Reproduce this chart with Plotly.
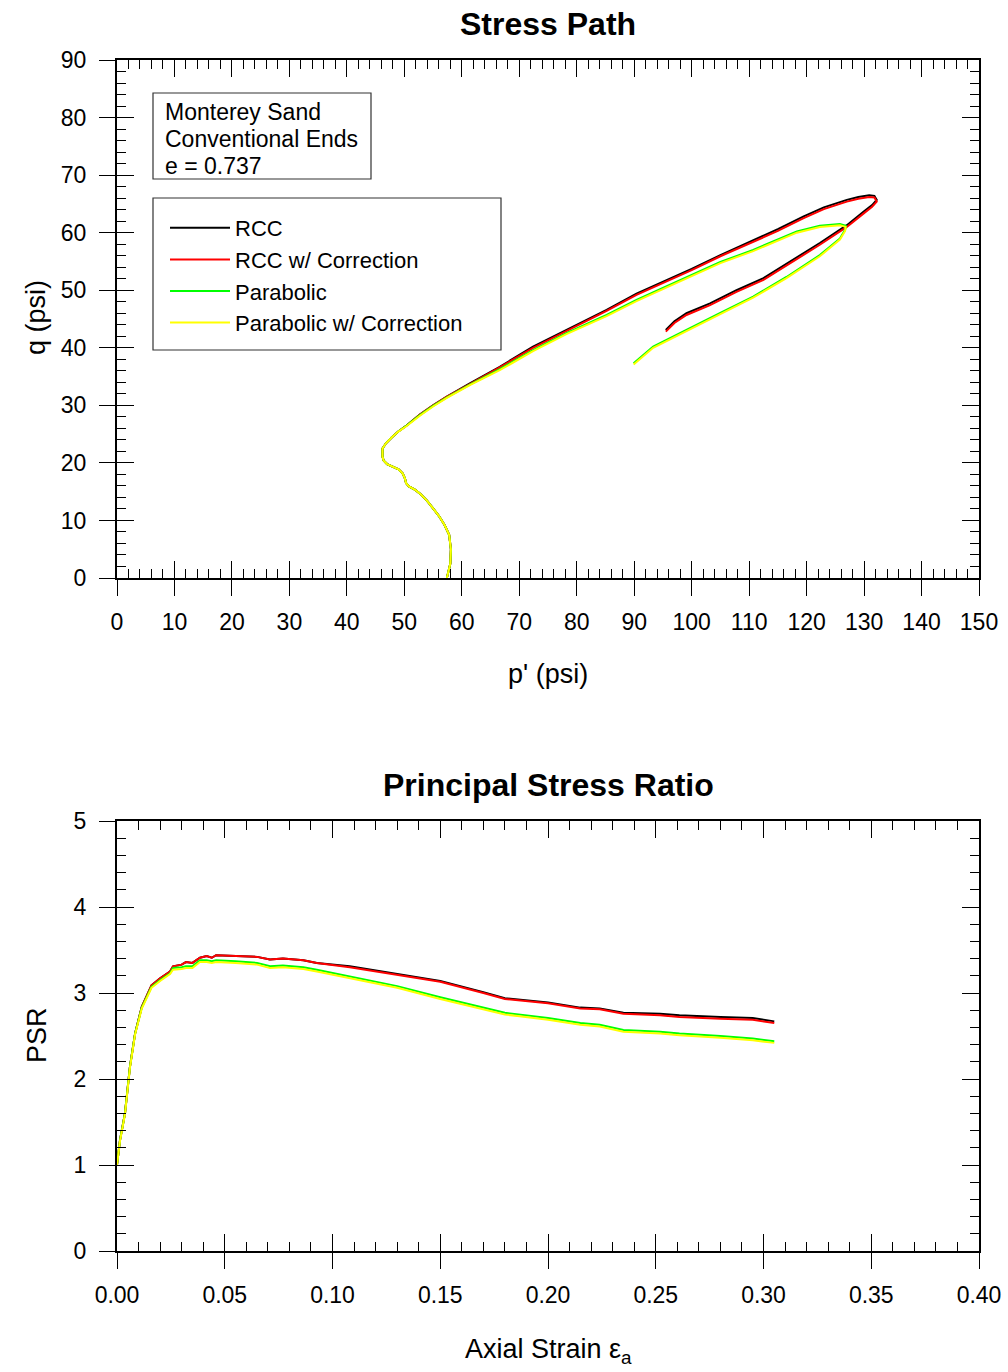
import plotly.graph_objects as go

W, H = 1008, 1372
FONT = "Liberation Sans, Arial, sans-serif"

# ---------------- Stress path data (p', q in psi) ----------------
rcc_p = [57.4, 58.0, 58.1, 57.8, 57.0, 56.0, 55.0, 53.9, 52.8, 51.9, 50.8, 50.3, 50.1, 49.7,
         49.0, 48.1, 47.0, 46.4, 46.2, 46.2, 46.8, 47.8, 48.9, 50.4, 52.7, 55.0, 57.4, 61.4,
         66.6, 72.4, 78.3, 85.2, 90.4, 95.0, 100.0, 105.0, 110.7, 115.0, 119.4, 123.0, 127.0, 129.0,
         130.9, 131.8, 132.2, 131.4, 130.0, 127.0, 122.3, 117.7, 112.5, 107.8, 103.2, 99.1, 97.0, 95.5]
rcc_q = [0.0, 2.5, 5.0, 7.5, 9.2, 10.8, 12.1, 13.5, 14.6, 15.3, 15.9, 16.5, 17.3, 18.2,
         18.9, 19.3, 19.8, 20.4, 21.1, 22.5, 23.4, 24.4, 25.4, 26.5, 28.4, 30.0, 31.5, 33.8,
         36.7, 40.2, 43.1, 46.6, 49.4, 51.4, 53.7, 56.1, 58.7, 60.6, 62.8, 64.4, 65.7, 66.2,
         66.5, 66.4, 65.7, 64.8, 63.7, 61.3, 58.2, 55.3, 52.1, 50.0, 47.7, 46.0, 44.6, 43.1]
rcc_corr_q = [0.0, 2.5, 5.0, 7.5, 9.2, 10.8, 12.1, 13.5, 14.6, 15.3, 15.9, 16.5, 17.3, 18.2,
              18.9, 19.3, 19.8, 20.4, 21.1, 22.5, 23.4, 24.4, 25.4, 26.5, 28.4, 30.0, 31.5, 33.7,
              36.6, 40.0, 42.9, 46.4, 49.2, 51.2, 53.5, 55.9, 58.4, 60.3, 62.5, 64.1, 65.4, 65.9,
              66.2, 66.1, 65.4, 64.5, 63.4, 61.0, 57.9, 55.0, 51.8, 49.7, 47.4, 45.7, 44.3, 42.8]

par_p = [57.4, 58.0, 58.1, 57.8, 57.0, 56.0, 55.0, 53.9, 52.8, 51.9, 50.8, 50.3, 50.1, 49.7,
         49.0, 48.1, 47.0, 46.4, 46.2, 46.2, 46.8, 47.8, 48.9, 50.4, 52.7, 55.0, 57.4, 61.4,
         66.6, 72.4, 78.3, 85.2, 90.4, 95.0, 100.0, 105.0, 110.7, 115.0, 118.3, 122.3, 125.8, 126.8,
         126.7, 125.8, 122.3, 116.5, 110.7, 104.9, 99.1, 93.3, 89.9]
par_q = [0.0, 2.5, 5.0, 7.5, 9.2, 10.8, 12.1, 13.5, 14.6, 15.3, 15.9, 16.5, 17.3, 18.2,
         18.9, 19.3, 19.8, 20.4, 21.1, 22.5, 23.4, 24.4, 25.4, 26.5, 28.3, 29.9, 31.4, 33.6,
         36.3, 39.6, 42.6, 45.7, 48.3, 50.4, 52.6, 54.9, 57.0, 58.8, 60.2, 61.2, 61.5, 61.2,
         60.5, 59.0, 56.1, 52.3, 48.9, 46.0, 43.1, 40.2, 37.3]
par_corr_q = [0.0, 2.5, 5.0, 7.5, 9.2, 10.8, 12.1, 13.5, 14.6, 15.3, 15.9, 16.5, 17.3, 18.2,
              18.9, 19.3, 19.8, 20.4, 21.1, 22.5, 23.4, 24.4, 25.4, 26.4, 28.2, 29.8, 31.3, 33.5,
              36.1, 39.4, 42.4, 45.5, 48.1, 50.2, 52.4, 54.7, 56.8, 58.6, 60.0, 61.0, 61.3, 61.0,
              60.3, 58.8, 55.9, 52.1, 48.7, 45.8, 42.9, 40.0, 37.1]

# ---------------- Principal stress ratio vs axial strain ----------------
strain = [0.0, 0.0014, 0.0037, 0.006, 0.0084, 0.0115, 0.016, 0.020, 0.0246, 0.026, 0.030, 0.032,
          0.035, 0.0385, 0.0416, 0.044, 0.046, 0.055, 0.065, 0.071, 0.077, 0.0865, 0.0927, 0.108,
          0.13, 0.15, 0.17, 0.18, 0.20, 0.215, 0.224, 0.235, 0.252, 0.261, 0.28, 0.295, 0.305]
psr_rcc = [1.00, 1.29, 1.60, 2.14, 2.53, 2.84, 3.09, 3.17, 3.25, 3.31, 3.33, 3.36,
           3.35, 3.41, 3.43, 3.41, 3.44, 3.43, 3.42, 3.39, 3.40, 3.38, 3.35, 3.31,
           3.22, 3.14, 3.01, 2.94, 2.89, 2.83, 2.82, 2.77, 2.76, 2.74, 2.72, 2.71, 2.67]
psr_rcc_corr = [1.00, 1.29, 1.60, 2.14, 2.53, 2.84, 3.09, 3.17, 3.25, 3.31, 3.33, 3.36,
                3.35, 3.41, 3.43, 3.41, 3.44, 3.43, 3.42, 3.39, 3.40, 3.38, 3.35, 3.30,
                3.21, 3.13, 3.00, 2.93, 2.88, 2.82, 2.81, 2.76, 2.74, 2.72, 2.70, 2.69, 2.65]
psr_par = [1.00, 1.29, 1.60, 2.14, 2.53, 2.83, 3.07, 3.15, 3.23, 3.29, 3.30, 3.31,
           3.31, 3.38, 3.38, 3.37, 3.38, 3.37, 3.35, 3.31, 3.32, 3.30, 3.27, 3.19,
           3.08, 2.95, 2.83, 2.77, 2.71, 2.65, 2.63, 2.57, 2.55, 2.53, 2.50, 2.47, 2.44]
psr_par_corr = [1.00, 1.28, 1.59, 2.13, 2.52, 2.82, 3.06, 3.14, 3.22, 3.27, 3.28, 3.29,
                3.29, 3.36, 3.36, 3.35, 3.36, 3.35, 3.33, 3.29, 3.30, 3.28, 3.25, 3.17,
                3.06, 2.93, 2.81, 2.75, 2.69, 2.63, 2.61, 2.55, 2.53, 2.51, 2.48, 2.45, 2.42]

series_names = ["RCC", "RCC w/ Correction", "Parabolic", "Parabolic w/ Correction"]
series_colors = ["#000000", "#FF0000", "#00FF00", "#FFFF00"]

stress_path = [(rcc_p, rcc_q), (rcc_p, rcc_corr_q), (par_p, par_q), (par_p, par_corr_q)]
psr_curves = [psr_rcc, psr_rcc_corr, psr_par, psr_par_corr]


def px(x):
    return x / W


def py(y):
    return 1 - y / H


fig = go.Figure()

for name, color, (p, q) in zip(series_names, series_colors, stress_path):
    fig.add_trace(go.Scatter(x=p, y=q, mode="lines", name=name,
                             line=dict(color=color, width=2),
                             xaxis="x", yaxis="y"))

for name, color, psr in zip(series_names, series_colors, psr_curves):
    fig.add_trace(go.Scatter(x=strain, y=psr, mode="lines", name=name, showlegend=False,
                             line=dict(color=color, width=2),
                             xaxis="x2", yaxis="y2"))

# empty traces so the outer-tick overlay axes get their own subplots
for xa, ya in [("x3", "y"), ("x", "y3"), ("x4", "y2"), ("x2", "y4")]:
    fig.add_trace(go.Scatter(x=[None], y=[None], xaxis=xa, yaxis=ya, showlegend=False,
                             hoverinfo="skip", mode="lines"))

AX = dict(showgrid=False, zeroline=False, color="black", tickcolor="black",
          tickwidth=1.3, linecolor="black", linewidth=1.5, automargin=False)
TICKFONT = dict(family=FONT, size=23, color="black")


def inner_axis(rng, dtick, minor_dtick, domain, anchor, **kw):
    return dict(AX, range=rng, dtick=dtick, domain=domain, anchor=anchor,
                ticks="inside", ticklen=17, mirror="ticks", showline=True,
                showticklabels=False,
                minor=dict(dtick=minor_dtick, ticks="inside", ticklen=9,
                           tickcolor="black", tickwidth=1.3, showgrid=False), **kw)


def outer_axis(rng, dtick, overlay, anchor, standoff, **kw):
    return dict(AX, range=rng, dtick=dtick, overlaying=overlay, anchor=anchor,
                ticks="outside", ticklen=17, showline=False, showticklabels=True,
                tickfont=TICKFONT, ticklabelstandoff=standoff, **kw)


x_dom = [px(117), px(979)]
fig.update_layout(
    xaxis=inner_axis([0, 150], 10, 2, x_dom, "y"),
    yaxis=inner_axis([0, 90], 10, 2, [py(578), py(60)], "x"),
    xaxis3=outer_axis([0, 150], 10, "x", "y", 6, side="bottom"),
    yaxis3=outer_axis([0, 90], 10, "y", "x", 8, side="left"),
    xaxis2=inner_axis([0, 0.4], 0.05, 0.01, x_dom, "y2"),
    yaxis2=inner_axis([0, 5], 1, 0.2, [py(1251), py(821)], "x2"),
    xaxis4=outer_axis([0, 0.4], 0.05, "x2", "y2", 6, side="bottom", tickformat=".2f"),
    yaxis4=outer_axis([0, 5], 1, "y2", "x2", 8, side="left"),
)

# titles and axis labels
texts = [
    ("<b>Stress Path</b>", 548, 24, 32, 0),
    ("p' (psi)", 548, 674, 27, 0),
    ("q (psi)", 36, 318, 27, -90),
    ("<b>Principal Stress Ratio</b>", 548, 785, 32, 0),
    ("PSR", 37, 1035, 27, -90),
    ("Axial Strain ε<sub>a</sub>", 548, 1351, 27, 0),
]
annotations = []
for txt, x, y, size, ang in texts:
    annotations.append(dict(text=txt, x=px(x), y=py(y), xref="paper", yref="paper",
                            xanchor="center", yanchor="middle", showarrow=False,
                            textangle=ang, font=dict(family=FONT, size=size, color="black")))

# sample description box
for line, y in [("Monterey Sand", 112), ("Conventional Ends", 139), ("e = 0.737", 166)]:
    annotations.append(dict(text=line, x=px(163), y=py(y), xref="paper", yref="paper",
                            xanchor="left", yanchor="middle", showarrow=False,
                            font=dict(family=FONT, size=23, color="black")))

shapes = [
    dict(type="rect", xref="paper", yref="paper", x0=px(153), x1=px(371), y0=py(179), y1=py(93),
         line=dict(color="#333333", width=1.2), fillcolor="white", layer="below"),
    dict(type="rect", xref="paper", yref="paper", x0=px(153), x1=px(501), y0=py(350), y1=py(198),
         line=dict(color="#333333", width=1.2), fillcolor="white", layer="below"),
]

fig.update_layout(
    width=W, height=H, margin=dict(l=0, r=0, t=0, b=0),
    paper_bgcolor="white", plot_bgcolor="white",
    font=dict(family=FONT, color="black"),
    annotations=annotations, shapes=shapes,
    legend=dict(x=px(165), y=py(207), xanchor="left", yanchor="top",
                bgcolor="rgba(0,0,0,0)", borderwidth=0, itemwidth=60,
                font=dict(family=FONT, size=22, color="black")),
    showlegend=True,
)

fig.write_html("out.html")
